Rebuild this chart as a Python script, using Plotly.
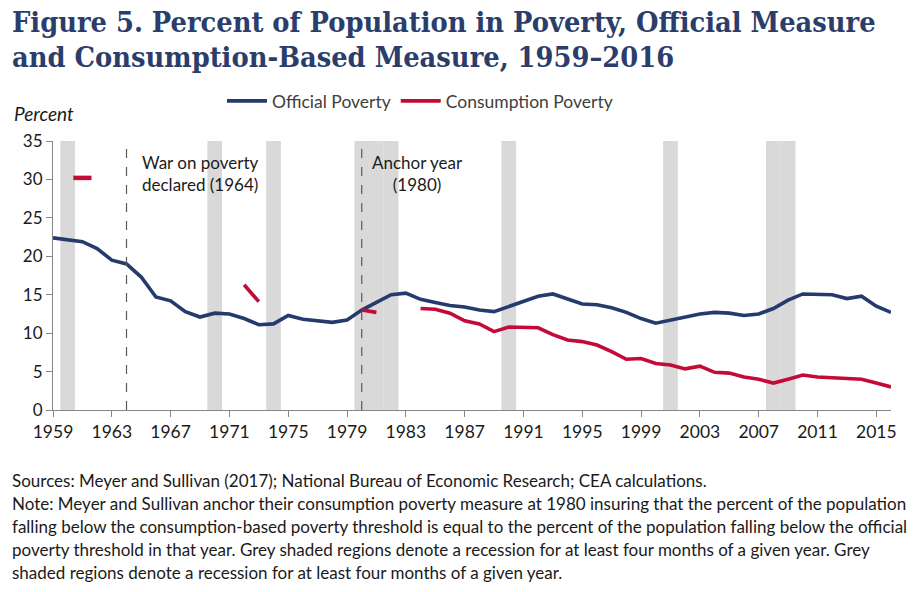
import plotly.graph_objects as go

years = list(range(1959, 2017))
official = [22.4, 22.2, 21.9, 21.0, 19.5, 19.0, 17.3, 14.7, 14.2, 12.8,
            12.1, 12.6, 12.5, 11.9, 11.1, 11.2, 12.3, 11.8, 11.6, 11.4,
            11.7, 13.0, 14.0, 15.0, 15.2, 14.4, 14.0, 13.6, 13.4, 13.0,
            12.8, 13.5, 14.2, 14.8, 15.1, 14.5, 13.8, 13.7, 13.3, 12.7,
            11.9, 11.3, 11.7, 12.1, 12.5, 12.7, 12.6, 12.3, 12.5, 13.2,
            14.3, 15.1, 15.0, 15.0, 14.5, 14.8, 13.5, 12.7]
consumption = [None, None, 30.2, None, None, None, None, None, None, None,
               None, None, None, 16.3, 14.1, None, None, None, None, None,
               None, 13.0, 12.7, None, None, 13.2, 13.1, 12.6, 11.6, 11.2,
               10.2, 10.8, 10.75, 10.7, 9.8, 9.1, 8.9, 8.45, 7.6, 6.6,
               6.7, 6.05, 5.85, 5.35, 5.7, 4.9, 4.8, 4.3, 4.0, 3.5,
               4.0, 4.55, 4.3, 4.2, 4.1, 4.0, 3.5, 3.0]
recession_years = [1960, 1970, 1974, 1980, 1981, 1982, 1990, 2001, 2008, 2009]
event_years = [1964, 1980]
event_labels = ["War on poverty<br>declared (1964)", "Anchor year<br>(1980)"]
x_ticks = list(range(1959, 2016, 4))
y_ticks = list(range(0, 36, 5))
title_lines = ["Figure 5. Percent of Population in Poverty, Official Measure",
               "and Consumption-Based Measure, 1959\u20132016"]

NAVY = "#253B6E"
RED = "#C40B36"
GREY = "#D9D9D9"
SANS = "Lato, Roboto, sans-serif"
SERIF = "DejaVu Serif Condensed, DejaVu Serif, serif"

# plot area geometry (pixels)
L, R, T, B = 53, 891, 141, 410
def px(x):
    return (x - L) / (R - L)
def py(y):
    return (B - y) / (B - T)

fig = go.Figure()

fig.add_trace(go.Scatter(x=years, y=official, mode="lines", name="Official Poverty",
                         line=dict(color=NAVY, width=3.6)))
fig.add_trace(go.Scatter(x=years, y=consumption, mode="lines", name="Consumption Poverty",
                         line=dict(color=RED, width=3.6), connectgaps=False))

# isolated consumption points (no neighbours) drawn as short dashes
iso_x, iso_y = [], []
for i, v in enumerate(consumption):
    if v is None:
        continue
    prev_ = consumption[i - 1] if i > 0 else None
    next_ = consumption[i + 1] if i < len(consumption) - 1 else None
    if prev_ is None and next_ is None:
        iso_x.append(years[i])
        iso_y.append(v)
fig.add_trace(go.Scatter(x=iso_x, y=iso_y, mode="markers", showlegend=False,
                         marker=dict(symbol="line-ew", size=13,
                                     line=dict(color=RED, width=4.5))))

shapes = []
for yr in recession_years:
    shapes.append(dict(type="rect", xref="x", yref="y", x0=yr - 0.5, x1=yr + 0.5,
                       y0=0, y1=35, fillcolor=GREY, line=dict(width=0), layer="below"))
for yr in event_years:
    shapes.append(dict(type="line", xref="x", yref="y", x0=yr, x1=yr, y0=0, y1=35,
                       line=dict(color="#595959", width=1.2, dash="dash"), layer="above"))

annotations = [
    dict(xref="x", yref="paper", x=1964.9, y=py(150), xanchor="left", yanchor="top",
         text=event_labels[0], showarrow=False, align="left",
         font=dict(family=SANS, size=17, color="#1a1a1a")),
    dict(xref="x", yref="paper", x=1983.8, y=py(150), xanchor="center", yanchor="top",
         text=event_labels[1], showarrow=False, align="center",
         font=dict(family=SANS, size=17, color="#1a1a1a")),
    dict(xref="paper", yref="paper", x=px(12), y=py(113), xanchor="left", yanchor="middle",
         text="<i>Percent</i>", showarrow=False,
         font=dict(family=SANS, size=19, color="#1a1a1a")),
]
for i, line in enumerate(title_lines):
    annotations.append(dict(xref="paper", yref="paper", x=px(10), y=py(22 + 35 * i),
                            xanchor="left", yanchor="middle", text="<b>" + line + "</b>",
                            showarrow=False,
                            font=dict(family=SERIF, size=28.7, color="#2B3E6B")))

notes = [
    "Sources: Meyer and Sullivan (2017); National Bureau of Economic Research; CEA calculations.",
    "Note: Meyer and Sullivan anchor their consumption poverty measure at 1980 insuring that the percent of the population",
    "falling below the consumption-based poverty threshold is equal to the percent of the population falling below the official",
    "poverty threshold in that year. Grey shaded regions denote a recession for at least four months of a given year. Grey",
    "shaded regions denote a recession for at least four months of a given year.",
]
for i, line in enumerate(notes):
    annotations.append(dict(xref="paper", yref="paper", x=px(10), y=py(480 + 23 * i),
                            xanchor="left", yanchor="middle", text=line, showarrow=False,
                            font=dict(family=SANS, size=17, color="#1a1a1a")))

fig.update_layout(
    width=921, height=592,
    margin=dict(l=L, r=921 - R, t=T, b=592 - B),
    paper_bgcolor="white", plot_bgcolor="white",
    legend=dict(orientation="h", x=px(222), y=py(101), xanchor="left", yanchor="middle",
                font=dict(family=SANS, size=17.5, color="#404040"), bgcolor="rgba(0,0,0,0)",
                traceorder="normal", itemwidth=40, tracegroupgap=0),
    shapes=shapes,
    annotations=annotations,
    showlegend=True,
)
fig.update_xaxes(range=[1959, 2016], tickvals=x_ticks, ticktext=[str(v) for v in x_ticks],
                 showgrid=False, zeroline=False, showline=True, linecolor="#868686", linewidth=1.2,
                 ticks="outside", ticklen=6, tickcolor="#868686",
                 tickfont=dict(family=SANS, size=17.5, color="#1a1a1a"))
fig.update_yaxes(range=[0, 35], tickvals=y_ticks, showgrid=False, zeroline=False,
                 showline=True, linecolor="#868686", linewidth=1.2,
                 ticks="outside", ticklen=6, tickcolor="#868686",
                 tickfont=dict(family=SANS, size=17, color="#1a1a1a"))

fig.write_html("out.html", config={"displayModeBar": False},
               post_script="document.body.style.margin='0px';")
